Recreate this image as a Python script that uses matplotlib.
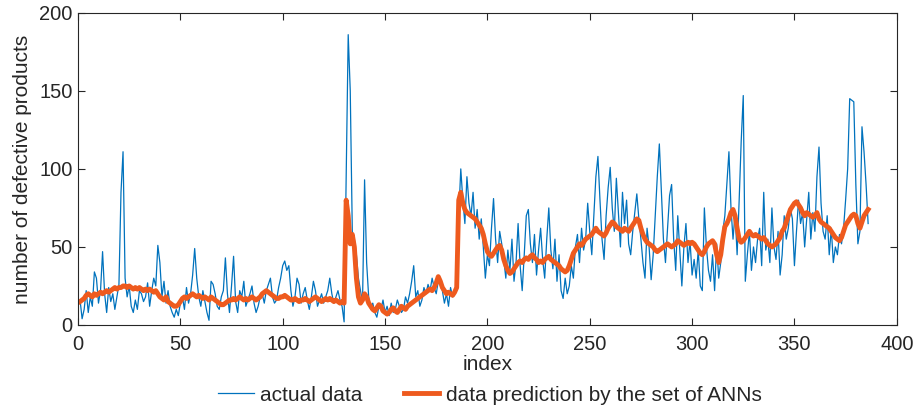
import numpy as np
import matplotlib
matplotlib.use("Agg")
import matplotlib.pyplot as plt

plt.rcParams.update({"font.family": ["Liberation Sans", "DejaVu Sans"], "font.size": 14})

BLUE = "#0072BD"
ORANGE = "#EE5A1E"
TXT = "#262626"

# actual number of defective products, index 1..386
actual = [
    16, 4, 10, 22, 8, 18, 12, 34, 30, 14,
    22, 47, 20, 8, 24, 15, 20, 10, 18, 26,
    85, 111, 30, 18, 25, 12, 8, 16, 10, 22,
    20, 15, 18, 27, 12, 22, 30, 25, 51, 40,
    18, 28, 14, 22, 12, 8, 5, 10, 6, 14,
    18, 10, 24, 14, 20, 32, 49, 30, 18, 12,
    22, 15, 8, 3, 28, 26, 20, 12, 10, 18,
    22, 43, 20, 8, 25, 44, 15, 8, 22, 18,
    28, 12, 16, 20, 25, 14, 8, 12, 18, 20,
    14, 22, 26, 30, 18, 14, 16, 24, 30, 38,
    41, 35, 38, 22, 12, 18, 30, 26, 14, 20,
    24, 16, 10, 18, 28, 22, 12, 16, 20, 14,
    18, 22, 30, 20, 14, 18, 22, 16, 12, 2,
    93, 186, 150, 60, 55, 45, 30, 22, 15, 93,
    40, 18, 10, 14, 8, 5, 12, 10, 16, 8,
    12, 6, 14, 8, 10, 16, 12, 8, 10, 18,
    14, 20, 28, 38, 18, 22, 12, 16, 24, 20,
    26, 22, 30, 24, 20, 28, 30, 22, 14, 20,
    12, 24, 18, 22, 26, 70, 100, 80, 65, 95,
    78, 70, 85, 62, 74, 55, 68, 50, 30, 45,
    38, 62, 81, 55, 40, 60, 52, 42, 30, 48,
    35, 55, 28, 40, 65, 38, 22, 45, 70, 74,
    52, 40, 58, 32, 48, 62, 42, 30, 55, 75,
    48, 36, 55, 28, 45, 22, 17, 30, 20, 25,
    38, 30, 50, 58, 40, 62, 48, 55, 78, 60,
    45, 70, 95, 108, 80, 55, 42, 70, 88, 101,
    75, 60, 94, 72, 50, 85, 65, 80, 52, 45,
    60, 72, 84, 68, 55, 40, 30, 62, 50, 29,
    45, 70, 95, 116, 85, 55, 40, 62, 83, 90,
    55, 35, 70, 48, 25, 50, 65, 40, 54, 32,
    42, 30, 48, 25, 22, 75, 50, 35, 28, 45,
    22, 52, 30, 40, 60, 70, 90, 111, 75, 55,
    72, 45, 80, 118, 147, 28, 45, 60, 35, 50,
    40, 55, 62, 38, 85, 48, 55, 40, 75, 50,
    42, 60, 32, 45, 70, 55, 62, 75, 68, 38,
    60, 80, 65, 72, 50, 68, 85, 55, 72, 60,
    95, 114, 78, 60, 55, 70, 45, 62, 40, 50,
    45, 58, 52, 62, 80, 100, 145, 144, 143, 90,
    52, 60, 127, 111, 90, 65,
]

# prediction by the set of ANNs
predicted = [
    15, 16, 17, 19, 20, 19, 18, 20, 19, 20,
    21, 20, 21, 22, 21, 22, 23, 24, 23, 24,
    24, 25, 25, 24, 25, 24, 23, 24, 23, 24,
    23, 22, 23, 22, 23, 22, 21, 22, 20, 18,
    17, 16, 18, 15, 14, 13, 12, 12, 13, 15,
    17, 18, 17, 18, 19, 20, 19, 18, 19, 18,
    17, 18, 17, 16, 18, 17, 16, 15, 14, 13,
    13, 14, 15, 16, 16, 17, 16, 17, 18, 17,
    16, 17, 16, 17, 18, 17, 16, 17, 18, 20,
    21, 22, 21, 20, 19, 18, 17, 17, 18, 18,
    19, 18, 17, 16, 16, 17, 16, 15, 16, 16,
    17, 16, 15, 16, 17, 18, 17, 16, 15, 16,
    17, 16, 17, 16, 15, 16, 15, 14, 15, 14,
    80, 70, 52, 58, 50, 30, 18, 14, 16, 20,
    18, 14, 12, 10, 9, 11, 13, 12, 9, 8,
    7, 8, 10, 11, 9, 8, 10, 12, 11, 10,
    12, 13, 14, 15, 16, 17, 18, 19, 20, 21,
    22, 23, 22, 24, 27, 31, 28, 24, 22, 20,
    21, 20, 19, 21, 24, 80, 85, 78, 74, 72,
    71, 70, 69, 68, 66, 64, 62, 58, 52, 47,
    45, 44, 46, 48, 50, 51, 48, 42, 38, 35,
    33, 34, 36, 38, 40, 41, 40, 42, 43, 42,
    44, 45, 43, 42, 40, 41, 40, 42, 43, 44,
    42, 41, 40, 39, 38, 36, 35, 34, 35, 38,
    42, 46, 48, 50, 52, 51, 53, 55, 56, 57,
    58, 60, 62, 60, 59, 58, 57, 59, 62, 64,
    66, 65, 63, 62, 61, 60, 62, 61, 60, 62,
    64, 66, 68, 67, 62, 58, 55, 53, 52, 51,
    50, 48, 47, 48, 49, 50, 51, 52, 51, 50,
    51, 52, 54, 53, 52, 51, 52, 53, 52, 53,
    52, 50, 48, 46, 45, 47, 50, 52, 53, 54,
    52, 45, 40, 45, 55, 63, 65, 68, 72, 74,
    70, 62, 55, 53, 54, 56, 58, 60, 58, 57,
    58, 57, 56, 55, 56, 54, 52, 51, 50, 51,
    52, 54, 56, 60, 62, 66, 70, 74, 76, 78,
    79, 77, 75, 72, 70, 72, 71, 70, 69, 70,
    72, 68, 66, 65, 64, 63, 62, 60, 58, 56,
    55, 54, 56, 60, 64, 66, 68, 70, 71, 70,
    65, 62, 66, 70, 72, 74,
]

x_ticks = [0, 50, 100, 150, 200, 250, 300, 350, 400]
y_ticks = [0, 50, 100, 150, 200]

fig = plt.figure(figsize=(9.21, 4.07), dpi=100)
ax = fig.add_axes([0.0847, 0.2015, 0.889, 0.767])

ax.plot(np.arange(1, len(actual) + 1), actual, color=BLUE, lw=0.9,
        label="actual data")
ax.plot(np.arange(1, len(predicted) + 1), predicted, color=ORANGE, lw=3.5,
        label="data prediction by the set of ANNs")

ax.set_xlim(0, 400)
ax.set_ylim(0, 200)
ax.set_xticks(x_ticks)
ax.set_yticks(y_ticks)
ax.tick_params(direction="in", top=True, right=True, length=5, width=0.8,
               labelsize=14.5, colors=TXT)
ax.tick_params(axis="x", pad=7)
ax.tick_params(axis="y", pad=4)
for s in ax.spines.values():
    s.set_color(TXT)
    s.set_linewidth(0.8)
ax.set_xlabel("index", fontsize=15, labelpad=1, color=TXT)
ax.set_ylabel("number of defective products", fontsize=15, labelpad=5, color=TXT)

leg = fig.legend(loc="lower center", bbox_to_anchor=(0.532, -0.04), ncol=2,
                 frameon=False, fontsize=15, handlelength=1.7,
                 handletextpad=0.3, columnspacing=2.0)
for t in leg.get_texts():
    t.set_color(TXT)

fig.savefig("out.png", dpi=100)
